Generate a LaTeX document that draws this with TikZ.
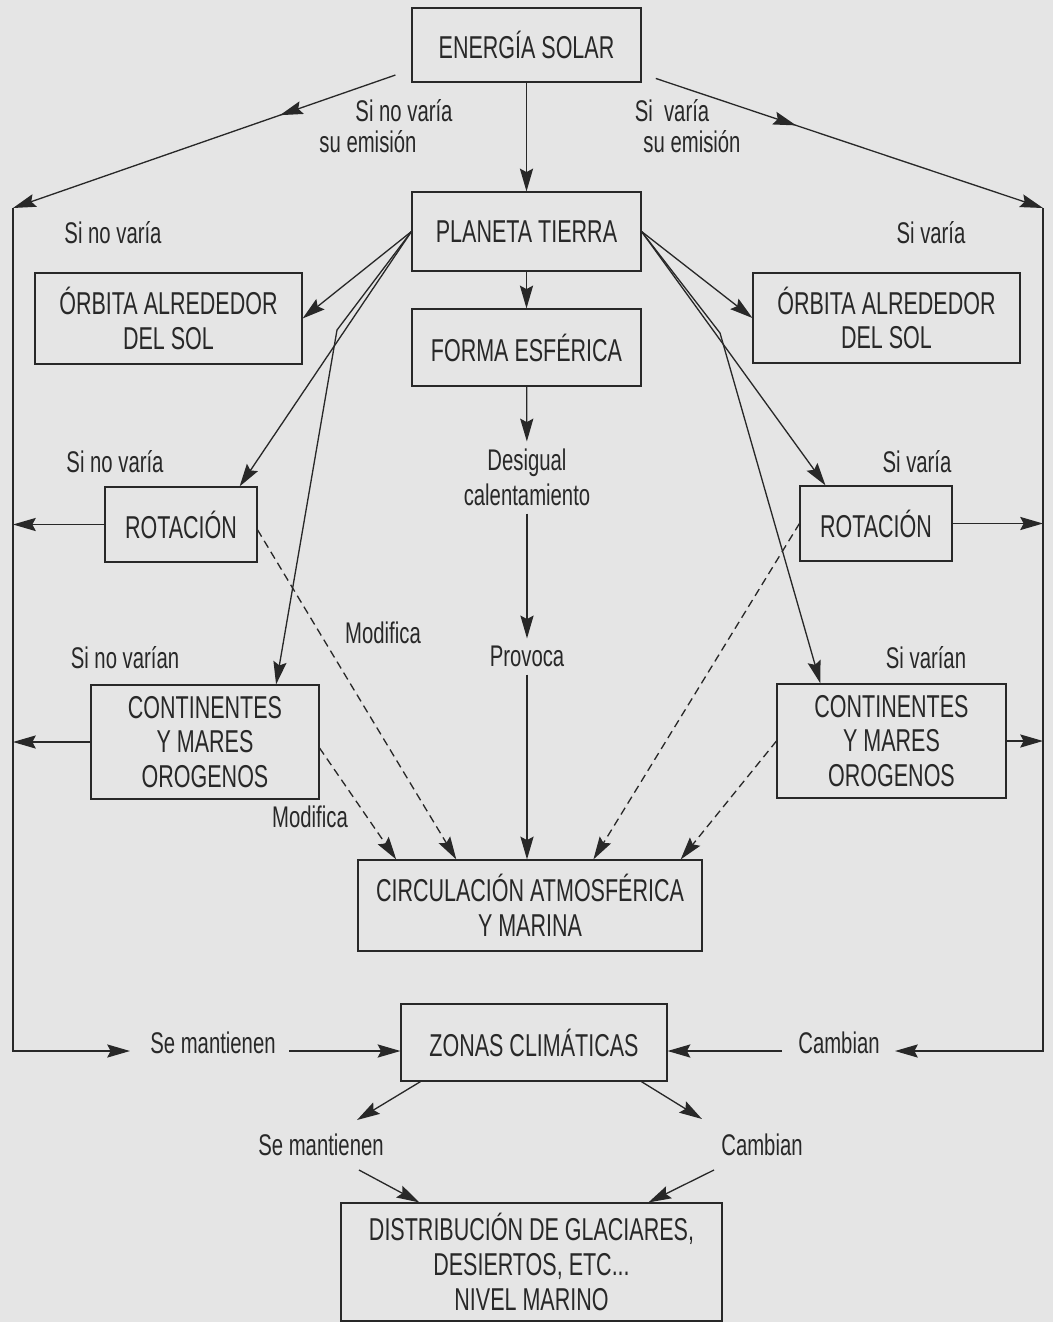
\documentclass[tikz,border=0pt]{standalone}
\usepackage{fontspec}
\setmainfont{Liberation Sans}[FakeStretch=0.68]
\usetikzlibrary{arrows.meta,decorations.markings}
\definecolor{paper}{RGB}{229,229,229}
\definecolor{ink}{RGB}{40,40,40}
\newcommand{\boxfont}{\fontsize{18}{19.8}\selectfont}
\newcommand{\lblfont}{\fontsize{17}{19.8}\selectfont}

\begin{document}
\begin{tikzpicture}[x=0.02cm,y=-0.02cm,->,>={Stealth[length=13pt,width=7.5pt,inset=2pt]},
  color=ink,line width=0.75pt,
  box/.style={draw,rectangle,align=center,inner sep=0pt,line width=0.65pt,font=\boxfont},
  lbl/.style={inner sep=4pt,align=center,font=\lblfont},
  modif/.style={dash pattern=on 4.5pt off 2.8pt},
  midarrow/.style={postaction={decorate},decoration={markings,mark=at position #1 with {\arrow{>}}}}]

  \fill[paper] (0,0) rectangle (1053,1322);
  \useasboundingbox (0,0) rectangle (1053,1322);

  \node[box] (sol) [minimum width=4.58cm, minimum height=1.48cm] at (526.5,45) {ENERGÍA SOLAR};
  \node[box] (tierra) [minimum width=4.58cm, minimum height=1.58cm] at (526.5,231.5) {PLANETA TIERRA};
  \node[box] (forma) [minimum width=4.58cm, minimum height=1.54cm] at (526.5,347.5) {FORMA ESFÉRICA};
  \node[box] (orbL) [minimum width=5.34cm, minimum height=1.82cm] at (168.5,318.5) {ÓRBITA ALREDEDOR\\DEL SOL};
  \node[box] (orbR) [minimum width=5.34cm, minimum height=1.80cm] at (886.5,318) {ÓRBITA ALREDEDOR\\DEL SOL};
  \node[box] (rotL) [minimum width=3.04cm, minimum height=1.50cm] at (181,524.5) {ROTACIÓN};
  \node[box] (rotR) [minimum width=3.04cm, minimum height=1.50cm] at (876,523.5) {ROTACIÓN};
  \node[box] (contL) [minimum width=4.56cm, minimum height=2.28cm] at (205,742) {CONTINENTES\\Y MARES\\OROGENOS};
  \node[box] (contR) [minimum width=4.58cm, minimum height=2.28cm] at (891.5,741) {CONTINENTES\\Y MARES\\OROGENOS};
  \node[box] (circ) [minimum width=6.88cm, minimum height=1.82cm] at (530,905.5) {CIRCULACIÓN ATMOSFÉRICA\\Y MARINA};
  \node[box] (zonas) [minimum width=5.32cm, minimum height=1.54cm] at (534,1042.5) {ZONAS CLIMÁTICAS};
  \node[box] (distrib) [minimum width=7.62cm, minimum height=2.36cm] at (531.5,1262) {DISTRIBUCIÓN DE GLACIARES,\\DESIERTOS, ETC...\\NIVEL MARINO};

  \node[lbl] (emL1) at (404,111) {Si no varía};
  \node[lbl] (emL2) at (368,142) {su emisión};
  \node[lbl] (emR1) at (672,111) {Si\ \ varía};
  \node[lbl] (emR2) at (692,142) {su emisión};
  \node[lbl] (siL1) at (113,233) {Si no varía};
  \node[lbl] (siR1) at (931,233) {Si varía};
  \node[lbl] (siL2) at (115,462) {Si no varía};
  \node[lbl] (siR2) at (917,462) {Si varía};
  \node[lbl] (siL3) at (125,658) {Si no varían};
  \node[lbl] (siR3) at (926,658) {Si varían};
  \node[lbl] (desig) at (527,477.5) {Desigual\\calentamiento};
  \node[lbl] (prov) at (527,656.5) {Provoca};
  \node[lbl] (modU) at (383,633) {Modifica};
  \node[lbl] (modL) at (310,817) {Modifica};
  \node[lbl] (semL) at (213,1043) {Se mantienen};
  \node[lbl] (cambR) at (839,1043) {Cambian};
  \node[lbl] (semB) at (321,1145) {Se mantienen};
  \node[lbl] (cambB) at (762,1145) {Cambian};

  \coordinate (lt) at (13,208);
  \coordinate (lb) at (13,1051);
  \coordinate (rt) at (1043,208);
  \coordinate (rb) at (1043,1051);
  \coordinate (kL) at (337,330);
  \coordinate (kR) at (720,333);
  \coordinate (semLin) at (130,1051);
  \coordinate (semLout) at (289,1051);
  \coordinate (cambRin) at (895,1051);
  \coordinate (cambRout) at (782,1051);
  \coordinate (semBin) at (357,1120);
  \coordinate (semBout) at (359,1170);
  \coordinate (cambBin) at (702,1119);
  \coordinate (cambBout) at (714,1170);

  \path
    (sol) edge (tierra)
    (tierra) edge (forma)
    (forma) edge (desig)
    (desig) edge (prov)
    (prov) edge (prov |- circ.north)
    (tierra.west) edge (orbL.east)
                  edge (rotL.33)
    (tierra.east) edge (orbR.west)
                  edge (rotR.143)
    (rotL.west) edge (rotL.west -| lt)
    (contL.west) edge (contL.west -| lt)
    (rotR.east) edge (rotR.east -| rt)
    (contR.east) edge (contR.east -| rt)
    (rotL.-4) edge[modif] (circ.148)
    (contL.-3) edge[modif] (circ.161)
    (rotR.west) edge[modif] (circ.36)
    (contR.west) edge[modif] (circ.17)
    ;
  \draw (tierra.west) -- (kL) -- (contL.39);
  \draw (tierra.east) -- (kR) -- (contR.141);

  % energia solar: ramas laterales
  \draw[midarrow=0.33,shorten <=0.34cm] (sol.192) -- (lt);
  \draw[midarrow=0.385,shorten <=0.3cm] (sol.-14) -- (rt);
  \draw (lt) -- (lb) -- (semLin);
  \draw (rt) -- (rb) -- (cambRin);
  \draw (semLout) -- (zonas.west |- lb);
  \draw (cambRout) -- (zonas.east |- rb);

  \draw (zonas.199) -- (semBin);
  \draw (zonas.-20) -- (cambBin);
  \draw (semBout) -- (distrib.152);
  \draw (cambBout) -- (distrib.27);
\end{tikzpicture}
\end{document}
